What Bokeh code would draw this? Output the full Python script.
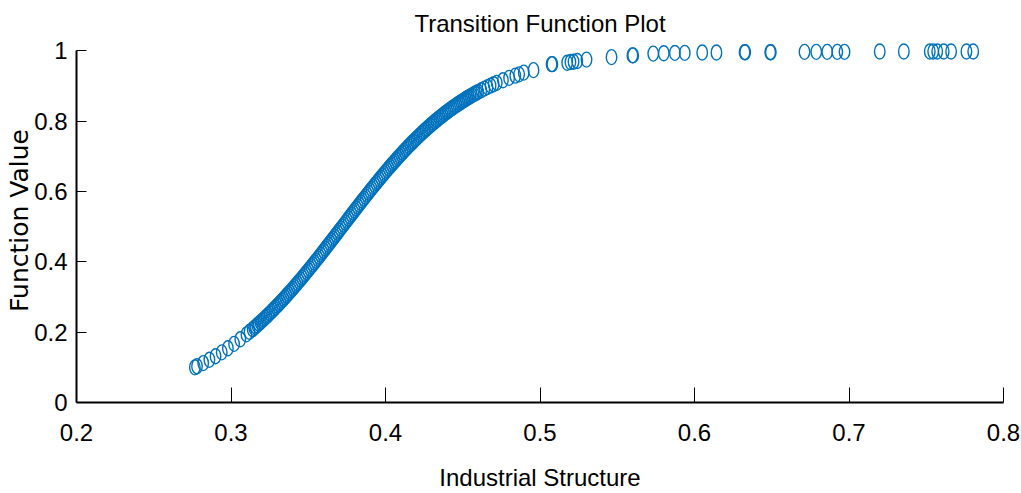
from bokeh.plotting import figure
from bokeh.models import Range1d, FixedTicker, CustomJSTickFormatter, ColumnDataSource
from bokeh.embed import file_html
from bokeh.resources import INLINE

# ---- data ----
industrial_structure = [
    0.2766, 0.278, 0.282, 0.286, 0.290, 0.294, 0.298, 0.302, 0.306, 0.310,
    0.312, 0.314, 0.316, 0.318, 0.320, 0.322, 0.324, 0.326, 0.328, 0.330,
    0.332, 0.334, 0.336, 0.338, 0.340, 0.342, 0.344, 0.346, 0.348, 0.350,
    0.352, 0.354, 0.356, 0.358, 0.360, 0.362, 0.364, 0.366, 0.368, 0.370,
    0.372, 0.374, 0.376, 0.378, 0.380, 0.382, 0.384, 0.386, 0.388, 0.390,
    0.392, 0.394, 0.396, 0.398, 0.400, 0.402, 0.404, 0.406, 0.408, 0.410,
    0.412, 0.414, 0.416, 0.418, 0.420, 0.422, 0.424, 0.426, 0.428, 0.430,
    0.432, 0.434, 0.436, 0.438, 0.440, 0.442, 0.444, 0.446, 0.448, 0.450,
    0.452, 0.454, 0.456, 0.458, 0.460, 0.462, 0.464, 0.466, 0.468, 0.470,
    0.472, 0.476, 0.480, 0.484, 0.4865, 0.4895, 0.4958, 0.5075, 0.5080, 0.5176,
    0.5197, 0.5217, 0.5241, 0.5301, 0.5463, 0.5598, 0.5603, 0.5733, 0.5801, 0.5873,
    0.5937, 0.6050, 0.6142, 0.6324, 0.6328, 0.6490, 0.6494, 0.6712, 0.6788, 0.6859,
    0.6924, 0.6971, 0.7199, 0.7355, 0.7523, 0.7545, 0.7571, 0.7613, 0.7661, 0.7760,
    0.7804,
    # further observations packed in the dense part of the band
    0.315, 0.317, 0.319, 0.321, 0.323, 0.325, 0.327, 0.329, 0.331, 0.333,
    0.335, 0.337, 0.339, 0.341, 0.343, 0.345, 0.347, 0.349, 0.351, 0.353,
    0.355, 0.357, 0.359, 0.361, 0.363, 0.365, 0.367, 0.369, 0.371, 0.373,
    0.375, 0.377, 0.379, 0.381, 0.383, 0.385, 0.387, 0.389, 0.391, 0.393,
    0.395, 0.397, 0.399, 0.401, 0.403, 0.405, 0.407, 0.409, 0.411, 0.413,
    0.415, 0.417, 0.419, 0.421, 0.423, 0.425, 0.427, 0.429, 0.431, 0.433,
    0.435, 0.437, 0.439, 0.441, 0.443, 0.445, 0.447, 0.449, 0.451, 0.453,
    0.455, 0.457, 0.459,
]
function_value = [
    0.1000, 0.1032, 0.1121, 0.1215, 0.1317, 0.1426, 0.1542, 0.1666, 0.1797, 0.1937,
    0.2010, 0.2085, 0.2162, 0.2241, 0.2322, 0.2405, 0.2490, 0.2577, 0.2666, 0.2757,
    0.2850, 0.2944, 0.3041, 0.3139, 0.3239, 0.3340, 0.3443, 0.3548, 0.3654, 0.3761,
    0.3870, 0.3980, 0.4090, 0.4202, 0.4314, 0.4427, 0.4541, 0.4656, 0.4770, 0.4885,
    0.5000, 0.5115, 0.5230, 0.5344, 0.5459, 0.5573, 0.5686, 0.5798, 0.5910, 0.6020,
    0.6130, 0.6239, 0.6346, 0.6452, 0.6557, 0.6660, 0.6761, 0.6861, 0.6959, 0.7056,
    0.7150, 0.7243, 0.7334, 0.7423, 0.7510, 0.7595, 0.7678, 0.7759, 0.7838, 0.7915,
    0.7990, 0.8063, 0.8134, 0.8203, 0.8269, 0.8334, 0.8397, 0.8458, 0.8517, 0.8574,
    0.8630, 0.8683, 0.8734, 0.8785, 0.8833, 0.8879, 0.8925, 0.8968, 0.9010, 0.9050,
    0.9088, 0.9162, 0.9230, 0.9293, 0.9330, 0.9380, 0.9450, 0.9620, 0.9620, 0.9660,
    0.9680, 0.9690, 0.9710, 0.9750, 0.9820, 0.9870, 0.9870, 0.9920, 0.9930, 0.9940,
    0.9940, 0.9950, 0.9950, 0.9960, 0.9960, 0.9960, 0.9960, 0.9970, 0.9970, 0.9970,
    0.9970, 0.9970, 0.9980, 0.9980, 0.9980, 0.9980, 0.9980, 0.9980, 0.9980, 0.9980,
    0.9980,
    0.2123, 0.2201, 0.2281, 0.2363, 0.2447, 0.2533, 0.2621, 0.2711, 0.2803, 0.2897,
    0.2992, 0.3090, 0.3188, 0.3289, 0.3392, 0.3495, 0.3601, 0.3708, 0.3815, 0.3925,
    0.4035, 0.4146, 0.4258, 0.4371, 0.4484, 0.4598, 0.4713, 0.4828, 0.4943, 0.5057,
    0.5172, 0.5287, 0.5402, 0.5516, 0.5629, 0.5742, 0.5854, 0.5965, 0.6075, 0.6185,
    0.6292, 0.6399, 0.6505, 0.6608, 0.6711, 0.6812, 0.6910, 0.7008, 0.7103, 0.7197,
    0.7289, 0.7379, 0.7467, 0.7553, 0.7637, 0.7719, 0.7799, 0.7877, 0.7953, 0.8026,
    0.8099, 0.8169, 0.8237, 0.8302, 0.8365, 0.8427, 0.8488, 0.8546, 0.8602, 0.8657,
    0.8709, 0.8760, 0.8809,
]
x_ticks = [0.2, 0.3, 0.4, 0.5, 0.6, 0.7, 0.8]
y_ticks = [0, 0.2, 0.4, 0.6, 0.8, 1]

title_text = "Transition Function Plot"
x_label = "Industrial Structure"
y_label = "Function Value"

SANS = "'Liberation Sans', Arial, sans-serif"
WIDE = "'DejaVu Sans', sans-serif"
BLUE = "#0072BD"

p = figure(
    width=1021, height=493,
    x_range=Range1d(0.2, 0.8), y_range=Range1d(0, 1.035),
    output_backend="svg", toolbar_location=None, title=title_text,
    min_border_left=76, min_border_right=18, min_border_top=38, min_border_bottom=91,
)
p.background_fill_color = "white"
p.border_fill_color = "white"
p.outline_line_color = None
p.grid.visible = False

src = ColumnDataSource(dict(x=industrial_structure, y=function_value))
p.ellipse(x="x", y="y", width=10.5, height=15, width_units="screen", height_units="screen",
          source=src, fill_color=None, line_color=BLUE, line_width=1.4)

# title
p.title.align = "center"
p.title.text_font = SANS
p.title.text_font_size = "24px"
p.title.text_font_style = "normal"
p.title.text_color = "black"
p.title.standoff = 4

# x axis
xa = p.xaxis[0]
xa.ticker = FixedTicker(ticks=x_ticks)
xa.bounds = (0.2, 0.8)
xa.axis_line_width = 2
xa.axis_line_color = "black"
xa.major_tick_in = 15
xa.major_tick_out = 0
xa.major_tick_line_color = "black"
xa.major_tick_line_width = 1
xa.minor_tick_line_color = None
xa.major_label_text_font = SANS
xa.major_label_text_font_size = "24px"
xa.major_label_text_color = "black"
xa.major_label_standoff = 21
xa.axis_label = x_label
xa.axis_label_text_font = SANS
xa.axis_label_text_font_size = "24px"
xa.axis_label_text_font_style = "normal"
xa.axis_label_text_color = "black"
xa.axis_label_standoff = 20

# y axis
ya = p.yaxis[0]
ya.ticker = FixedTicker(ticks=y_ticks)
ya.formatter = CustomJSTickFormatter(code="return String(Math.round(tick*10)/10);")
ya.bounds = (0, 1)
ya.axis_line_width = 2
ya.axis_line_color = "black"
ya.major_tick_in = 10
ya.major_tick_out = 0
ya.major_tick_line_color = "black"
ya.major_tick_line_width = 1
ya.minor_tick_line_color = None
ya.major_label_text_font = SANS
ya.major_label_text_font_size = "24px"
ya.major_label_text_color = "black"
ya.major_label_standoff = 9
ya.axis_label = y_label
ya.axis_label_text_font = WIDE
ya.axis_label_text_font_size = "25px"
ya.axis_label_text_font_style = "normal"
ya.axis_label_text_color = "black"
ya.axis_label_standoff = -3

open("out.html", "w").write(file_html(p, INLINE))
